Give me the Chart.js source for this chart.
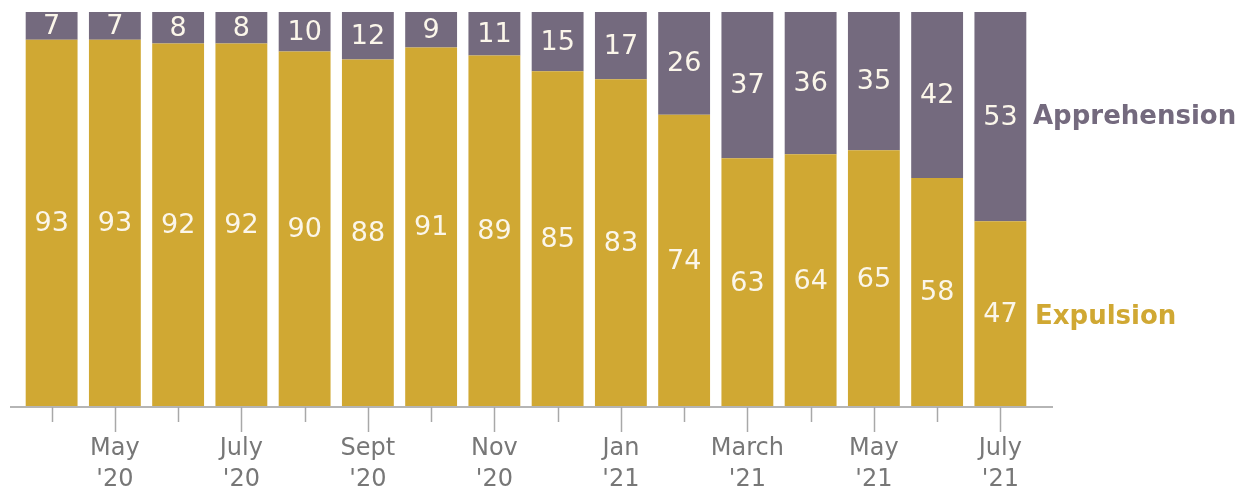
<!DOCTYPE html>
<html>
<head>
<meta charset="utf-8">
<script src="https://cdn.jsdelivr.net/npm/chart.js@4"></script>
<style>
  html, body { margin: 0; padding: 0; background: #fff; }
  #wrap { width: 1256px; height: 493px; position: relative; }
</style>
</head>
<body>
<div id="wrap"><canvas id="chart"></canvas></div>
<script>
const months = ["Apr 2020", "May 2020", "Jun 2020", "Jul 2020", "Aug 2020", "Sep 2020", "Oct 2020", "Nov 2020",
  "Dec 2020", "Jan 2021", "Feb 2021", "Mar 2021", "Apr 2021", "May 2021", "Jun 2021", "Jul 2021"];
const tickLabels = ["", ["May", "'20"], "", ["July", "'20"], "", ["Sept", "'20"], "", ["Nov", "'20"],
  "", ["Jan", "'21"], "", ["March", "'21"], "", ["May", "'21"], "", ["July", "'21"]];
const expulsion = [93, 93, 92, 92, 90, 88, 91, 89, 85, 83, 74, 63, 64, 65, 58, 47];
const apprehension = [7, 7, 8, 8, 10, 12, 9, 11, 15, 17, 26, 37, 36, 35, 42, 53];

const GOLD = "#d0a833";
const PURPLE = "#746a7e";
const FONT = "'DejaVu Sans', sans-serif";

// value labels, series names, axis line and ticks
const decor = {
  id: "decor",
  afterDatasetsDraw(chart) {
    const { ctx } = chart;
    const x = chart.scales.x;
    const y = chart.scales.y;
    const base = y.getPixelForValue(0);

    ctx.save();
    ctx.strokeStyle = "#b5b5b5";
    ctx.lineWidth = 2;
    ctx.beginPath();
    ctx.moveTo(10, base);
    ctx.lineTo(1053, base);
    ctx.stroke();

    ctx.strokeStyle = "#a8a8a8";
    ctx.lineWidth = 1.5;
    months.forEach((m, i) => {
      const px = Math.round(x.getPixelForValue(i)) + 0.5;
      ctx.beginPath();
      ctx.moveTo(px, base);
      ctx.lineTo(px, base + (tickLabels[i] ? 25 : 15));
      ctx.stroke();
    });

    ctx.font = "27px " + FONT;
    ctx.fillStyle = "#fbf6ea";
    ctx.textAlign = "center";
    ctx.textBaseline = "middle";
    chart.data.datasets.forEach((ds, d) => {
      chart.getDatasetMeta(d).data.forEach((bar, i) => {
        const mid = (bar.y + bar.base) / 2;
        ctx.fillText(ds.data[i], bar.x, mid + 1);
      });
    });

    const last = months.length - 1;
    const eBar = chart.getDatasetMeta(0).data[last];
    const aBar = chart.getDatasetMeta(1).data[last];
    ctx.font = "bold 26px " + FONT;
    ctx.textAlign = "left";
    ctx.fillStyle = PURPLE;
    ctx.fillText("Apprehension", 1033, (aBar.y + aBar.base) / 2 + 1);
    ctx.fillStyle = GOLD;
    ctx.fillText("Expulsion", 1035, (eBar.y + eBar.base) / 2 + 3);
    ctx.restore();
  }
};

new Chart(document.getElementById("chart"), {
  type: "bar",
  data: {
    labels: tickLabels,
    datasets: [
      { label: "Expulsion", data: expulsion, backgroundColor: GOLD },
      { label: "Apprehension", data: apprehension, backgroundColor: PURPLE },
    ],
  },
  options: {
    responsive: true,
    maintainAspectRatio: false,
    animation: false,
    layout: { padding: { left: 20, right: 224, top: 12, bottom: 0 } },
    datasets: { bar: { barPercentage: 0.82, categoryPercentage: 1 } },
    plugins: { legend: { display: false }, tooltip: { enabled: false } },
    scales: {
      x: {
        stacked: true,
        grid: { display: false, drawTicks: false },
        border: { display: false },
        ticks: {
          autoSkip: false,
          maxRotation: 0,
          padding: 26,
          color: "#777",
          font: { family: FONT, size: 24, lineHeight: 1.3 },
        },
        afterFit(scale) { scale.height = 86; },
      },
      y: {
        stacked: true,
        display: false,
        min: 0,
        max: 100,
      },
    },
  },
  plugins: [decor],
});
</script>
</body>
</html>
